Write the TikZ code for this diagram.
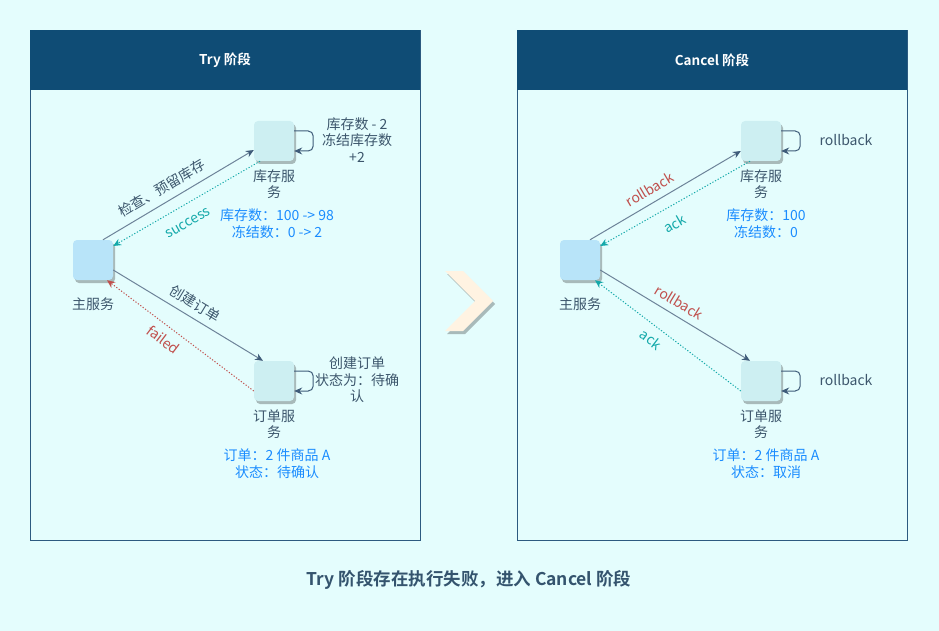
\documentclass[tikz,border=0pt]{standalone}
\usepackage{fontspec}
\setmainfont{Noto Sans CJK SC}[BoldFont={Noto Sans CJK SC Bold}]
\usetikzlibrary{arrows.meta,shadows,positioning}

\definecolor{bgc}{HTML}{E4FDFD}
\definecolor{hdrc}{HTML}{0F4C75}
\definecolor{framec}{HTML}{2C5A80}
\definecolor{mainc}{HTML}{B8E4F9}
\definecolor{svcc}{HTML}{CDEFF2}
\definecolor{shadc}{HTML}{A8BABA}
\definecolor{txtc}{HTML}{3C566C}
\definecolor{linec}{HTML}{6D8399}
\definecolor{headc}{HTML}{3F5C7A}
\definecolor{okc}{HTML}{14A9AA}
\definecolor{errc}{HTML}{C0504D}
\definecolor{datac}{HTML}{1A8CFF}
\definecolor{chevc}{HTML}{FFF3E2}
\definecolor{capc}{HTML}{34546E}

\tikzset{
  box/.style={rounded corners=4pt, minimum size=40pt, inner sep=0pt,
    drop shadow={shadow xshift=2pt, shadow yshift=-3pt, fill=shadc, opacity=1}},
  mainbox/.style={box, fill=mainc},
  svcbox/.style={box, fill=svcc},
  txt/.style={text=txtc, font=\fontsize{14}{16.5}\selectfont, align=center, inner sep=1pt},
  data/.style={text=datac, font=\fontsize{14}{17}\selectfont, align=center, inner sep=1pt},
  hdr/.style={text=white, font=\fontsize{13.5}{16}\selectfont\bfseries},
  call/.style={draw=linec, line width=1pt, -{Stealth[length=8pt,width=7pt,color=headc]}},
  reply/.style={line width=1pt, dash pattern=on 1.2pt off 1.8pt, -{Stealth[length=8pt,width=7pt]}},
  oky/.style={reply, draw=okc},
  bad/.style={reply, draw=errc},
  selfloop/.style={draw=headc, line width=1pt, rounded corners=5pt, -{Stealth[length=8pt,width=7pt]}},
  elbl/.style={font=\fontsize{14}{16}\selectfont, sloped, inner sep=7pt},
  ulbl/.style={elbl, above},
  dlbl/.style={elbl, below},
}

\begin{document}
\begin{tikzpicture}[x=1pt, y=-1pt]
  \useasboundingbox (0,0) rectangle (939,631);
  \fill[bgc] (0,0) rectangle (939,631);

  % panels
  \draw[framec, fill=bgc] (30,30) rectangle (420,540);
  \fill[hdrc] (30,30) rectangle (420,90);
  \node[hdr] (trytitle) at (225,60) {Try 阶段};
  \draw[framec, fill=bgc] (517,30) rectangle (907,540);
  \fill[hdrc] (517,30) rectangle (907,90);
  \node[hdr] (canceltitle) at (712,60) {Cancel 阶段};

  % Try 阶段
  \node[mainbox] (main) at (93,260) {};
  \node[svcbox] (inv) at (274,141) {};
  \node[svcbox] (ord) at (274,381) {};
  \node[txt, below=16pt of main] (mainlbl) {主服务};
  \node[txt, below=7pt of inv] (invlbl) {库存服\\务};
  \node[txt, below=7pt of ord] (ordlbl) {订单服\\务};
  \node[data, below=8pt of invlbl, xshift=3pt] (invdata) {库存数：100 -> 98\\冻结数：0 -> 2};
  \node[data, below=8pt of ordlbl, xshift=3pt] (orddata) {订单：2 件商品 A\\状态：待确认};

  \draw[call] ([xshift=10pt]main.north) -- ([yshift=-9pt]inv.west)
    node[ulbl, pos=0.44, text=txtc] {检查、预留库存};
  \draw[oky] ([xshift=-14pt]inv.south) -- ([yshift=14pt]main.east)
    node[dlbl, pos=0.55, inner sep=13pt, text=okc] {success};
  \draw[call] ([yshift=-10pt]main.east) -- ([xshift=-11pt]ord.north)
    node[ulbl, pos=0.5, text=txtc] {创建订单};
  \draw[bad] ([yshift=-10pt]ord.west) -- ([xshift=14pt]main.south)
    node[dlbl, pos=0.56, text=errc] {failed};

  \draw[selfloop] ([yshift=10pt]inv.east) -- ++(19pt,0) -- ++(0,-20pt) -- ([yshift=-10pt]inv.east);
  \node[txt] (invnote) at (357,140) {库存数 - 2\\冻结库存数\\+2};
  \draw[selfloop] ([yshift=10pt]ord.east) -- ++(19pt,0) -- ++(0,-20pt) -- ([yshift=-10pt]ord.east);
  \node[txt] (ordnote) at (357,380) {创建订单\\状态为：待确\\认};

  % 箭头
  \fill[shadc] (447,274) -- (465,274) -- (495,304) -- (465,334) -- (447,334) -- (477,304) -- cycle;
  \fill[chevc] (445,271) -- (463,271) -- (493,301) -- (463,331) -- (445,331) -- (475,301) -- cycle;

  % Cancel 阶段
  \node[mainbox] (main2) at (580,260) {};
  \node[svcbox] (inv2) at (761,141) {};
  \node[svcbox] (ord2) at (761,381) {};
  \node[txt, below=16pt of main2] (mainlbl2) {主服务};
  \node[txt, below=7pt of inv2] (invlbl2) {库存服\\务};
  \node[txt, below=7pt of ord2] (ordlbl2) {订单服\\务};
  \node[data, below=8pt of invlbl2, xshift=5pt] (invdata2) {库存数：100\\冻结数：0};
  \node[data, below=8pt of ordlbl2, xshift=5pt] (orddata2) {订单：2 件商品 A\\状态：取消};

  \draw[call] ([xshift=10pt]main2.north) -- ([yshift=-10pt]inv2.west)
    node[ulbl, pos=0.44, text=errc] {rollback};
  \draw[oky] ([xshift=-11pt]inv2.south) -- ([yshift=14pt]main2.east)
    node[dlbl, pos=0.56, inner sep=11pt, text=okc] {ack};
  \draw[call] ([yshift=-10pt]main2.east) -- ([xshift=-11pt]ord2.north)
    node[ulbl, pos=0.48, text=errc] {rollback};
  \draw[oky] ([yshift=-10pt]ord2.west) -- ([xshift=15pt]main2.south)
    node[dlbl, pos=0.56, text=okc] {ack};

  \draw[selfloop] ([yshift=10pt]inv2.east) -- ++(19pt,0) -- ++(0,-20pt) -- ([yshift=-10pt]inv2.east);
  \node[txt] (invnote2) at (846,140) {rollback};
  \draw[selfloop] ([yshift=10pt]ord2.east) -- ++(19pt,0) -- ++(0,-20pt) -- ([yshift=-10pt]ord2.east);
  \node[txt] (ordnote2) at (846,380) {rollback};

  \node[text=capc, font=\fontsize{17.5}{21}\selectfont\bfseries] (caption) at (469,580)
    {Try 阶段存在执行失败，进入 Cancel 阶段};
\end{tikzpicture}
\end{document}
